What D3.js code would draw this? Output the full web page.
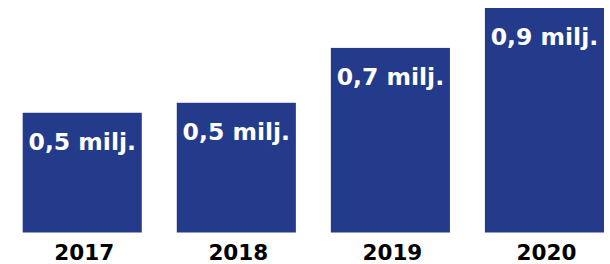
<!DOCTYPE html>
<html>
<head>
<meta charset="utf-8">
<script src="https://cdn.jsdelivr.net/npm/d3@7"></script>
<style>
  html, body { margin: 0; padding: 0; background: #ffffff; }
  svg { display: block; }
</style>
</head>
<body>
<div id="chart"></div>
<script>
const years = ['2017', '2018', '2019', '2020'];
const values = [0.48, 0.52, 0.74, 0.9];
const valueLabels = ['0,5 milj.', '0,5 milj.', '0,7 milj.', '0,9 milj.'];

const color = {
  bar: '#243a8a',
  value: '#ffffff',
  year: '#000000'
};

const width = 610;
const height = 264;

const svg = d3.select('#chart')
  .append('svg')
  .attr('width', width)
  .attr('height', height);

// band scale for the years
const x = d3.scaleBand()
  .domain(years)
  .range([22.7, 604])
  .paddingInner(0.227)
  .paddingOuter(0);

const y = d3.scaleLinear()
  .domain([0, 0.9])
  .range([232.5, 8]);

const data = years.map((yr, i) => ({ year: yr, value: values[i], label: valueLabels[i] }));

svg.selectAll('rect.bar')
  .data(data)
  .enter()
  .append('rect')
  .attr('class', 'bar')
  .attr('x', (d) => x(d.year))
  .attr('y', (d) => y(d.value))
  .attr('width', x.bandwidth())
  .attr('height', (d) => y(0) - y(d.value))
  .style('fill', color.bar);

// value labels inside the bars
svg.selectAll('text.value')
  .data(data)
  .enter()
  .append('text')
  .attr('class', 'value')
  .attr('x', (d) => x(d.year) + x.bandwidth() / 2)
  .attr('y', (d) => y(d.value) + 37)
  .attr('text-anchor', 'middle')
  .style('font-family', '"DejaVu Sans", Verdana, sans-serif')
  .style('font-weight', 'bold')
  .style('font-size', '23.5px')
  .style('fill', color.value)
  .text((d) => d.label);

// year axis, no line or ticks
const axis = svg.append('g')
  .attr('transform', `translate(0, ${y(0)})`)
  .call(d3.axisBottom(x).tickSize(0).tickPadding(0));

axis.select('.domain').remove();

axis.selectAll('text')
  .attr('y', 27)
  .attr('dy', null)
  .attr('dx', 2)
  .style('font-family', '"DejaVu Sans", Verdana, sans-serif')
  .style('font-weight', 'bold')
  .style('font-size', '21.5px')
  .style('fill', color.year);
</script>
</body>
</html>
